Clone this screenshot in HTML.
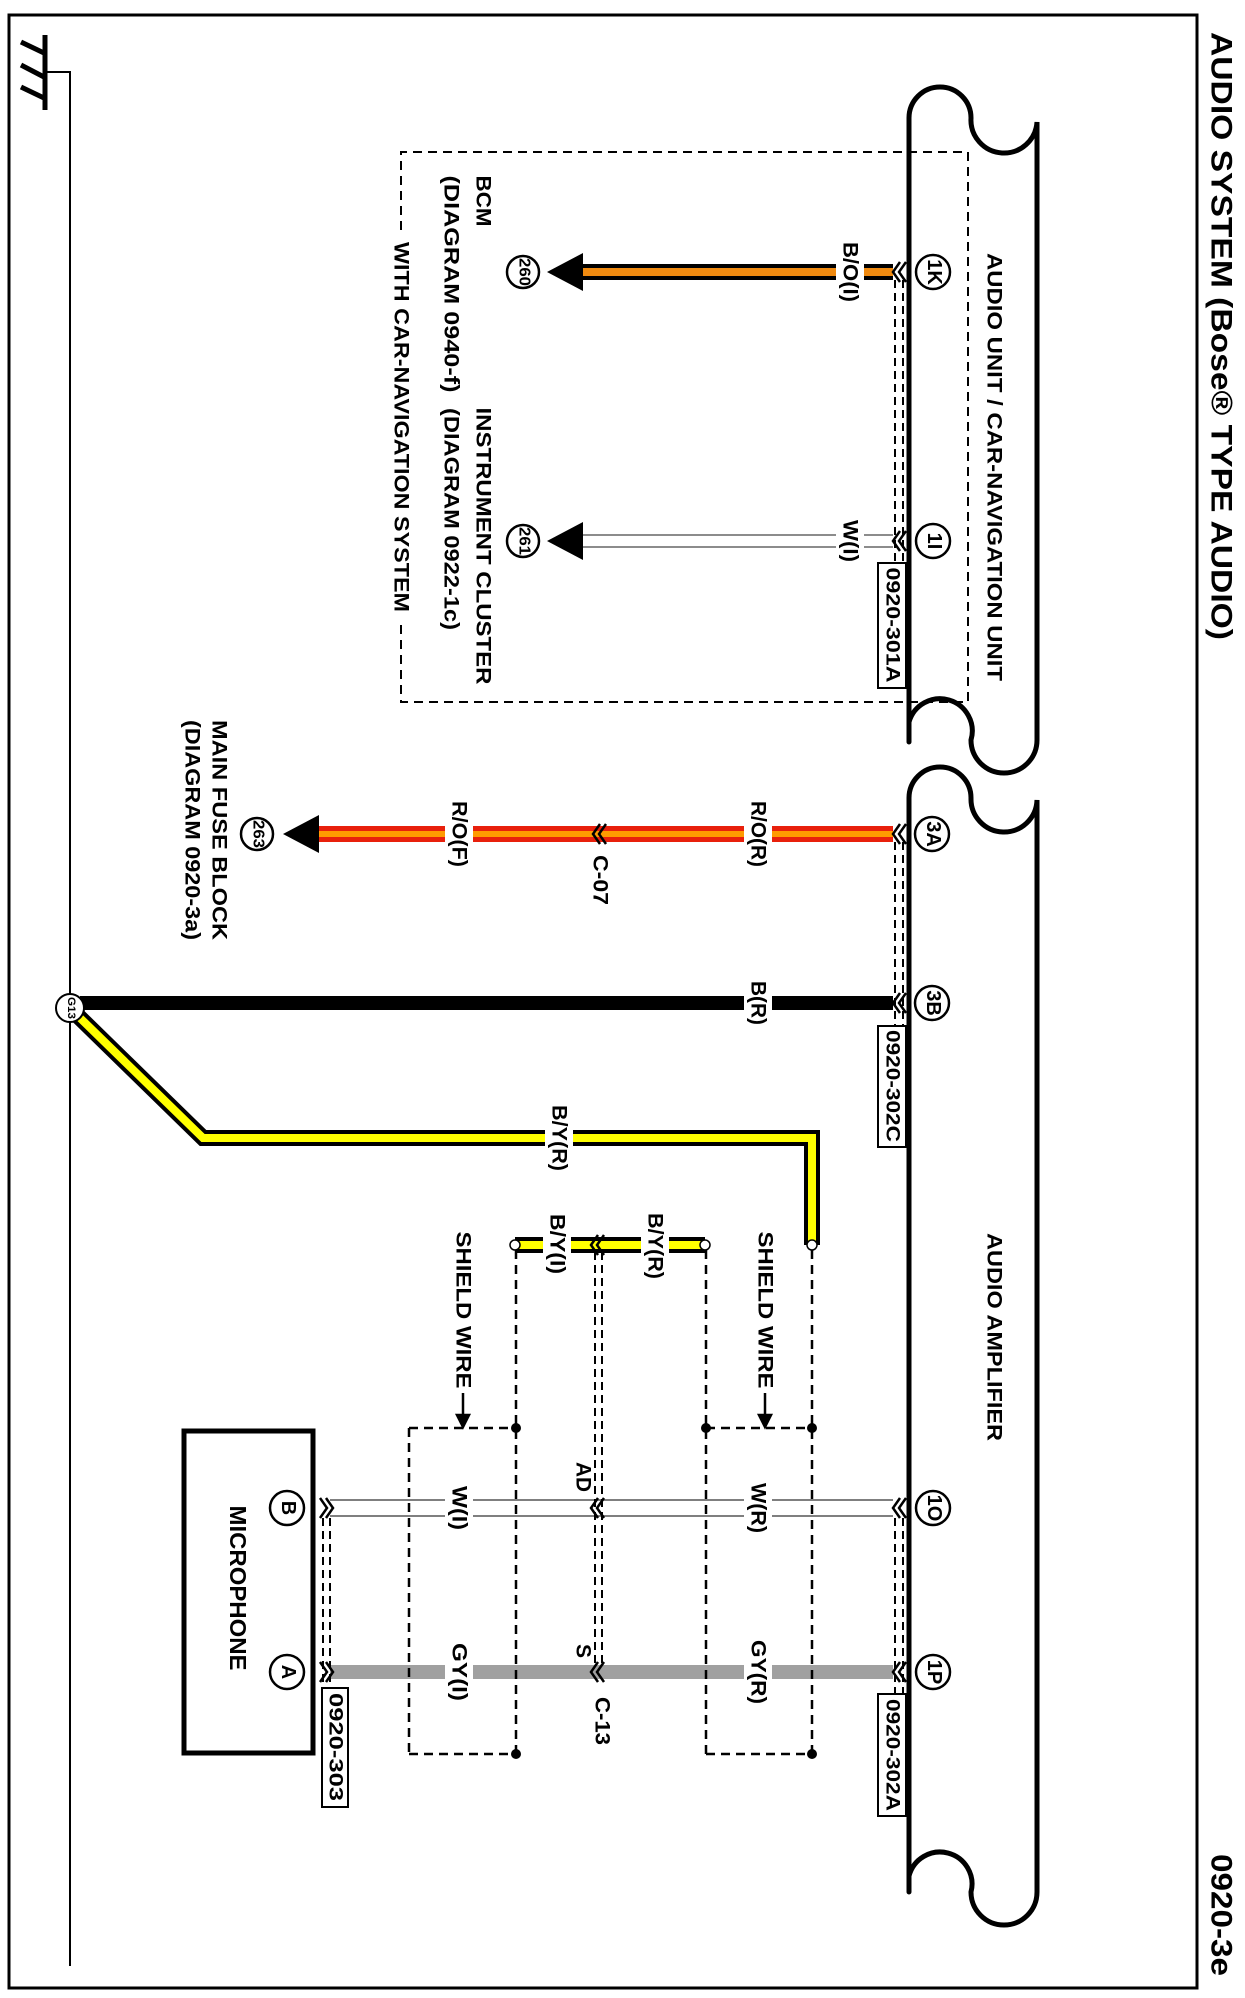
<!DOCTYPE html>
<html><head><meta charset="utf-8"><style>
html,body{margin:0;padding:0;background:#fff;}
svg{display:block;font-family:"Liberation Sans",Arial,sans-serif;}
</style></head><body>
<svg width="1245" height="1998" viewBox="0 0 1245 1998" xmlns="http://www.w3.org/2000/svg">
<rect x="0" y="0" width="1245" height="1998" fill="#fff"/>
<rect x="9" y="15" width="1188" height="1973" fill="none" stroke="#000" stroke-width="3"/>

<g stroke="#000" fill="none">
<line x1="45" y1="35" x2="45" y2="110" stroke-width="5"/>
<line x1="21" y1="42" x2="44" y2="53" stroke-width="5"/>
<line x1="21" y1="65" x2="44" y2="77" stroke-width="5"/>
<line x1="21" y1="87" x2="44" y2="98" stroke-width="5"/>
<polyline points="45,72 70,72 70,1966" stroke-width="2"/>
</g>

<g stroke="#000" stroke-width="5" fill="none" stroke-linecap="round">
<path d="M909,742 L909,118 A31,31 0 0 1 971,118 A33,33 0 0 0 1037,122 L1037,740 A33,33 0 0 1 971,740 A31,31 0 0 0 909,722"/>
<path d="M909,1892 L909,798 A31,31 0 0 1 971,798 A33,33 0 0 0 1037,800 L1037,1892 A33,33 0 0 1 971,1892 A31,31 0 0 0 909,1876"/>
</g>

<g stroke="#000" stroke-width="2" fill="none" stroke-dasharray="9,6">
<polyline points="401,230 401,152 968,152 968,702 401,702 401,625"/>
</g>

<g fill="none">
<line x1="580" y1="272" x2="893" y2="272" stroke="#000" stroke-width="16"/>
<line x1="580" y1="272" x2="893" y2="272" stroke="#f08a10" stroke-width="8"/>
<line x1="580" y1="535" x2="893" y2="535" stroke="#666" stroke-width="1.5"/>
<line x1="580" y1="547" x2="893" y2="547" stroke="#666" stroke-width="1.5"/>
<line x1="315" y1="834" x2="893" y2="834" stroke="#e8200c" stroke-width="16"/>
<line x1="315" y1="834" x2="893" y2="834" stroke="#ff9a00" stroke-width="6"/>
<line x1="80" y1="1003" x2="893" y2="1003" stroke="#000" stroke-width="14"/>
<polyline points="76,1014 203,1138 812,1138 812,1245" stroke="#000" stroke-width="16" stroke-linejoin="miter"/>
<polyline points="76,1014 203,1138 812,1138 812,1245" stroke="#ffff00" stroke-width="8" stroke-linejoin="miter"/>
<line x1="515" y1="1245" x2="705" y2="1245" stroke="#000" stroke-width="16"/>
<line x1="515" y1="1245" x2="705" y2="1245" stroke="#ffff00" stroke-width="8"/>
<line x1="330" y1="1500" x2="893" y2="1500" stroke="#555" stroke-width="1.5"/>
<line x1="330" y1="1516" x2="893" y2="1516" stroke="#555" stroke-width="1.5"/>
<line x1="330" y1="1672" x2="893" y2="1672" stroke="#a0a0a0" stroke-width="14"/>
</g>

<g stroke="#000" stroke-width="2.5" fill="none" stroke-dasharray="9,6">
<line x1="812" y1="1250" x2="812" y2="1754"/>
<line x1="706" y1="1250" x2="706" y2="1754"/>
<line x1="706" y1="1428" x2="812" y2="1428"/>
<line x1="706" y1="1754" x2="812" y2="1754"/>
<line x1="516" y1="1250" x2="516" y2="1754"/>
<line x1="409" y1="1428" x2="516" y2="1428"/>
<line x1="409" y1="1754" x2="516" y2="1754"/>
<line x1="409" y1="1428" x2="409" y2="1754"/>
</g>
<g stroke="#000" stroke-width="2" fill="none" stroke-dasharray="8,5">
<line x1="895" y1="280" x2="895" y2="562"/><line x1="903" y1="280" x2="903" y2="562"/>
<line x1="895" y1="842" x2="895" y2="1025"/><line x1="903" y1="842" x2="903" y2="1025"/>
<line x1="895" y1="1518" x2="895" y2="1693"/><line x1="903" y1="1518" x2="903" y2="1693"/>
<line x1="323" y1="1518" x2="323" y2="1687"/><line x1="330" y1="1518" x2="330" y2="1687"/>
<line x1="595" y1="1252" x2="595" y2="1665"/><line x1="602" y1="1252" x2="602" y2="1665"/>
</g>
<g fill="#000">
<circle cx="812" cy="1428" r="5"/><circle cx="706" cy="1428" r="5"/><circle cx="812" cy="1754" r="5"/>
<circle cx="516" cy="1428" r="5"/><circle cx="516" cy="1754" r="5"/>
</g>
<g fill="#fff" stroke="#000" stroke-width="1.5">
<circle cx="812" cy="1245" r="5"/><circle cx="515" cy="1245" r="5"/><circle cx="705" cy="1245" r="5"/>
</g>

<g fill="none" stroke="#000" stroke-width="2.5">
<polyline points="900,262 893,272 900,282"/><polyline points="906,262 899,272 906,282"/>
<polyline points="900,531 893,541 900,551"/><polyline points="906,531 899,541 906,551"/>
<polyline points="900,824 893,834 900,844"/><polyline points="906,824 899,834 906,844"/>
<polyline points="900,993 893,1003 900,1013"/><polyline points="906,993 899,1003 906,1013"/>
<polyline points="900,1498 893,1508 900,1518"/><polyline points="906,1498 899,1508 906,1518"/>
<polyline points="900,1662 893,1672 900,1682"/><polyline points="906,1662 899,1672 906,1682"/>
<polyline points="600,824 593,834 600,844"/><polyline points="606,824 599,834 606,844"/>
<polyline points="598,1235 591,1245 598,1255"/><polyline points="604,1235 597,1245 604,1255"/>
<polyline points="598,1498 591,1508 598,1518"/><polyline points="604,1498 597,1508 604,1518"/>
<polyline points="598,1662 591,1672 598,1682"/><polyline points="604,1662 597,1672 604,1682"/>
<polyline points="320,1498 327,1508 320,1518"/><polyline points="326,1498 333,1508 326,1518"/>
<polyline points="320,1662 327,1672 320,1682"/><polyline points="326,1662 333,1672 326,1682"/>
</g>

<g fill="#000">
<polygon points="547,272 583,253 583,291"/>
<polygon points="547,541 583,522 583,560"/>
<polygon points="283,834 319,815 319,853"/>
</g>

<g fill="#fff">
<rect x="836" y="240" width="28" height="65"/>
<rect x="836" y="516" width="28" height="50"/>
<rect x="744" y="798" width="28" height="72"/>
<rect x="445" y="798" width="28" height="72"/>
<rect x="744" y="978" width="28" height="50"/>
<rect x="545" y="1102" width="28" height="72"/>
<rect x="641" y="1212" width="28" height="68"/>
<rect x="543" y="1212" width="28" height="64"/>
<rect x="744" y="1480" width="28" height="56"/>
<rect x="445" y="1480" width="28" height="56"/>
<rect x="744" y="1636" width="28" height="72"/>
<rect x="445" y="1636" width="28" height="72"/>
</g>

<rect x="184" y="1431" width="129" height="322" fill="none" stroke="#000" stroke-width="5"/>

<g fill="#fff" stroke="#000" stroke-width="2.5">
<circle cx="933" cy="272" r="17"/><circle cx="933" cy="541" r="17"/>
<circle cx="932" cy="834" r="17"/><circle cx="932" cy="1003" r="17"/>
<circle cx="933" cy="1508" r="17"/><circle cx="933" cy="1672" r="17"/>
<circle cx="287" cy="1508" r="17"/><circle cx="287" cy="1672" r="17"/>
<circle cx="523" cy="272" r="16"/><circle cx="523" cy="541" r="16"/><circle cx="257" cy="834" r="16"/>
<circle cx="70" cy="1008" r="14" stroke-width="2"/>
</g>

<g fill="#fff" stroke="#000" stroke-width="2">
<rect x="878" y="563" width="28" height="125"/>
<rect x="878" y="1026" width="28" height="121"/>
<rect x="878" y="1694" width="28" height="122"/>
<rect x="322" y="1688" width="26" height="119"/>
</g>

<g stroke="#000" stroke-width="2.5" fill="#000">
<line x1="765" y1="1393" x2="765" y2="1418"/><polygon points="759,1415 771,1415 765,1427"/>
<line x1="463" y1="1393" x2="463" y2="1418"/><polygon points="457,1415 469,1415 463,1427"/>
</g>

<g fill="#000" font-size="21" font-weight="bold" dominant-baseline="central" text-anchor="middle">
<text transform="translate(1221,336) rotate(90)" font-size="30" textLength="608" lengthAdjust="spacingAndGlyphs">AUDIO SYSTEM (Bose® TYPE AUDIO)</text>
<text transform="translate(1221,1915) rotate(90)" font-size="30" textLength="122" lengthAdjust="spacingAndGlyphs">0920-3e</text>
<text transform="translate(994,467) rotate(90)" textLength="428" lengthAdjust="spacingAndGlyphs">AUDIO UNIT / CAR-NAVIGATION UNIT</text>
<text transform="translate(994,1337) rotate(90)" textLength="208" lengthAdjust="spacingAndGlyphs">AUDIO AMPLIFIER</text>
<text transform="translate(483,201) rotate(90)" textLength="51" lengthAdjust="spacingAndGlyphs">BCM</text>
<text transform="translate(451,284) rotate(90)" textLength="217" lengthAdjust="spacingAndGlyphs">(DIAGRAM 0940-f)</text>
<text transform="translate(483,546) rotate(90)" textLength="277" lengthAdjust="spacingAndGlyphs">INSTRUMENT CLUSTER</text>
<text transform="translate(451,519) rotate(90)" textLength="222" lengthAdjust="spacingAndGlyphs">(DIAGRAM 0922-1c)</text>
<text transform="translate(401,427) rotate(90)" textLength="370" lengthAdjust="spacingAndGlyphs">WITH CAR-NAVIGATION SYSTEM</text>
<text transform="translate(219,830) rotate(90)" textLength="220" lengthAdjust="spacingAndGlyphs">MAIN FUSE BLOCK</text>
<text transform="translate(192,830) rotate(90)" textLength="220" lengthAdjust="spacingAndGlyphs">(DIAGRAM 0920-3a)</text>
<text transform="translate(238,1588) rotate(90)" font-size="23" textLength="165" lengthAdjust="spacingAndGlyphs">MICROPHONE</text>
<text transform="translate(850,272) rotate(90)" textLength="60" lengthAdjust="spacingAndGlyphs">B/O(I)</text>
<text transform="translate(850,541) rotate(90)" textLength="42" lengthAdjust="spacingAndGlyphs">W(I)</text>
<text transform="translate(758,834) rotate(90)" textLength="66" lengthAdjust="spacingAndGlyphs">R/O(R)</text>
<text transform="translate(459,834) rotate(90)" textLength="66" lengthAdjust="spacingAndGlyphs">R/O(F)</text>
<text transform="translate(600,880) rotate(90)" textLength="50" lengthAdjust="spacingAndGlyphs">C-07</text>
<text transform="translate(758,1003) rotate(90)" textLength="44" lengthAdjust="spacingAndGlyphs">B(R)</text>
<text transform="translate(559,1138) rotate(90)" textLength="66" lengthAdjust="spacingAndGlyphs">B/Y(R)</text>
<text transform="translate(655,1246) rotate(90)" textLength="66" lengthAdjust="spacingAndGlyphs">B/Y(R)</text>
<text transform="translate(557,1244) rotate(90)" textLength="60" lengthAdjust="spacingAndGlyphs">B/Y(I)</text>
<text transform="translate(765,1310) rotate(90)" textLength="157" lengthAdjust="spacingAndGlyphs">SHIELD WIRE</text>
<text transform="translate(463,1310) rotate(90)" textLength="157" lengthAdjust="spacingAndGlyphs">SHIELD WIRE</text>
<text transform="translate(758,1508) rotate(90)" textLength="50" lengthAdjust="spacingAndGlyphs">W(R)</text>
<text transform="translate(459,1508) rotate(90)" textLength="44" lengthAdjust="spacingAndGlyphs">W(I)</text>
<text transform="translate(583,1477) rotate(90)" textLength="30" lengthAdjust="spacingAndGlyphs">AD</text>
<text transform="translate(758,1672) rotate(90)" textLength="64" lengthAdjust="spacingAndGlyphs">GY(R)</text>
<text transform="translate(459,1672) rotate(90)" textLength="58" lengthAdjust="spacingAndGlyphs">GY(I)</text>
<text transform="translate(583,1651) rotate(90)">S</text>
<text transform="translate(602,1721) rotate(90)" textLength="48" lengthAdjust="spacingAndGlyphs">C-13</text>
<g font-size="19">
<text transform="translate(892,625) rotate(90)" textLength="115" lengthAdjust="spacingAndGlyphs">0920-301A</text>
<text transform="translate(892,1086) rotate(90)" textLength="112" lengthAdjust="spacingAndGlyphs">0920-302C</text>
<text transform="translate(892,1755) rotate(90)" textLength="112" lengthAdjust="spacingAndGlyphs">0920-302A</text>
<text transform="translate(335,1747) rotate(90)" textLength="108" lengthAdjust="spacingAndGlyphs">0920-303</text>
</g>
<g font-size="20">
<text transform="translate(934,272) rotate(90)">1K</text>
<text transform="translate(934,541) rotate(90)">1I</text>
<text transform="translate(933,834) rotate(90)">3A</text>
<text transform="translate(933,1003) rotate(90)">3B</text>
<text transform="translate(934,1508) rotate(90)">1O</text>
<text transform="translate(934,1672) rotate(90)">1P</text>
<text transform="translate(288,1508) rotate(90)">B</text>
<text transform="translate(288,1672) rotate(90)">A</text>
</g>
<g font-size="16">
<text transform="translate(524,272) rotate(90)" textLength="28" lengthAdjust="spacingAndGlyphs">260</text>
<text transform="translate(524,541) rotate(90)" textLength="28" lengthAdjust="spacingAndGlyphs">261</text>
<text transform="translate(258,834) rotate(90)" textLength="28" lengthAdjust="spacingAndGlyphs">263</text>
</g>
<text transform="translate(71,1008) rotate(90)" font-size="11" textLength="22" lengthAdjust="spacingAndGlyphs">G13</text>
</g>
</svg>
</body></html>
